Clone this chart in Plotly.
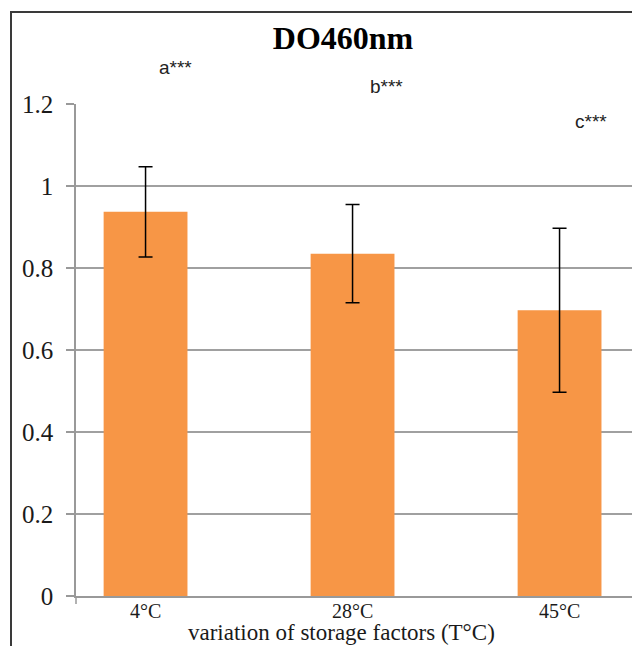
import plotly.graph_objects as go

categories = ["4°C", "28°C", "45°C"]
values = [0.937, 0.835, 0.697]
errors = [0.11, 0.12, 0.20]
sig_labels = ["a***", "b***", "c***"]
y_ticks = [0, 0.2, 0.4, 0.6, 0.8, 1, 1.2]
y_tick_text = ["0", "0.2", "0.4", "0.6", "0.8", "1", "1.2"]
x_title = "variation of storage factors (T°C)"

W, H = 632, 646
L, R, T, B = 76, 0, 104, 50
pw, ph = W - L - R, H - T - B
y_max = 1.2

serif = "Liberation Serif"

fig = go.Figure()
fig.add_trace(go.Bar(
    x=categories, y=values,
    width=0.405,
    marker=dict(color="#F79646", line=dict(width=0)),
    error_y=dict(type="data", array=errors, visible=True,
                 color="#000000", thickness=1.5, width=7),
))

# significance labels positioned relative to each bar
offsets = [(0.143, 1.29), (1.164, 1.243), (2.15, 1.158)]
for lab, (xo, yo) in zip(sig_labels, offsets):
    fig.add_annotation(x=xo, y=yo / y_max, xref="x", yref="paper", text=lab, showarrow=False,
                       font=dict(family="Liberation Sans", size=19, color="#222222"),
                       xanchor="center", yanchor="middle")

# x-axis title
fig.add_annotation(x=(341 - L) / pw, y=-(632 - (T + ph)) / ph, xref="paper", yref="paper",
                   text=x_title, showarrow=False, xanchor="center", yanchor="middle",
                   font=dict(family=serif, size=23, color="#1a1a1a"))

# outer chart frame (extends past right/bottom edges)
fig.add_shape(type="rect", xref="paper", yref="paper",
              x0=(11 - L) / pw, x1=1.3, y0=-0.3, y1=1 + (T - 12) / ph,
              line=dict(color="#3a3a3a", width=2), fillcolor="rgba(0,0,0,0)", layer="above")
# small tick below origin
fig.add_shape(type="line", xref="paper", yref="paper",
              x0=0, x1=0, y0=0, y1=-8 / ph, line=dict(color="#999999", width=1.5))

fig.update_layout(
    width=W, height=H,
    margin=dict(l=L, r=R, t=T, b=B, pad=0),
    paper_bgcolor="white", plot_bgcolor="white",
    showlegend=False,
    title=dict(text="<b>DO460nm</b>", x=343 / W, xref="container",
               xanchor="center", y=1 - 38 / H, yref="container", yanchor="middle",
               font=dict(family=serif, size=32, color="#000000")),
    font=dict(family=serif, color="#1a1a1a"),
)
fig.update_xaxes(
    range=[-0.336, 2.35], showgrid=False, showline=True, linecolor="#999999", linewidth=1.5,
    ticks="", tickfont=dict(family=serif, size=20, color="#1a1a1a"),
    ticklabelstandoff=-4,
    zeroline=False,
)
fig.update_yaxes(
    range=[0, y_max], tickvals=y_ticks, ticktext=y_tick_text,
    showgrid=True, gridcolor="#a0a0a0", gridwidth=1.5,
    showline=True, linecolor="#999999", linewidth=1.5,
    ticks="outside", ticklen=8, tickcolor="#999999", tickwidth=1.5,
    ticklabelstandoff=8,
    tickfont=dict(family=serif, size=25, color="#1a1a1a"),
    zeroline=False,
)

fig.write_html("out.html")
